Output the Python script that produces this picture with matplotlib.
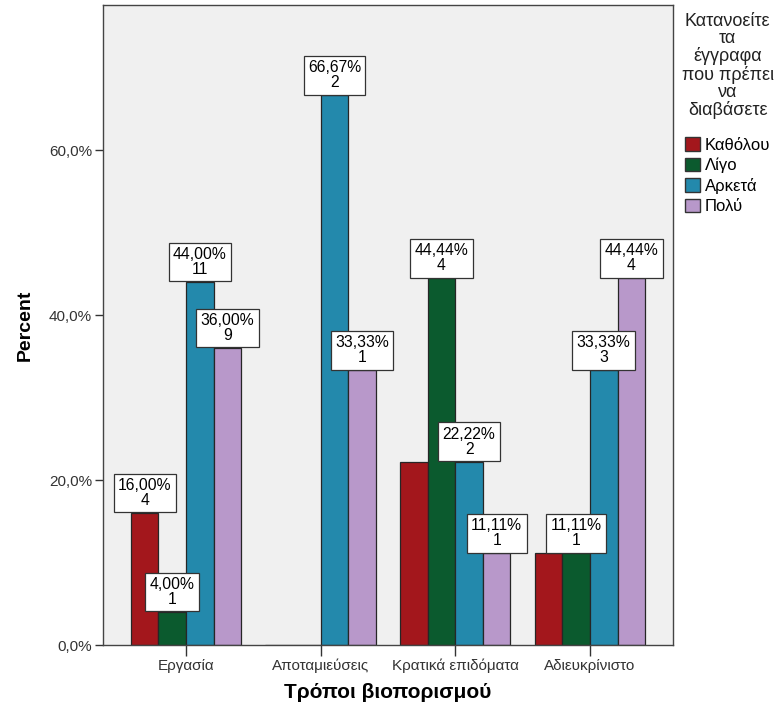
import matplotlib
matplotlib.use('Agg')
import matplotlib.pyplot as plt
import matplotlib.patches as mpatches
import numpy as np

plt.rcParams['font.family'] = ['Liberation Sans', 'DejaVu Sans']

categories = ['Εργασία', 'Αποταμιεύσεις', 'Κρατικά επιδόματα', 'Αδιευκρίνιστο']
series = ['Καθόλου', 'Λίγο', 'Αρκετά', 'Πολύ']
colors = ['#A3171C', '#0B5A2E', '#2389AC', '#B898CA']

percents = [
    [16.00, 0.00, 22.22, 11.11],   # Καθόλου
    [4.00, 0.00, 44.44, 11.11],    # Λίγο
    [44.00, 66.67, 22.22, 33.33],  # Αρκετά
    [36.00, 33.33, 11.11, 44.44],  # Πολύ
]
counts = [
    [4, 0, 2, 1],
    [1, 0, 4, 1],
    [11, 2, 2, 3],
    [9, 1, 1, 4],
]
# labels that SPSS hid because of overlap (or zero bars)
shown = [
    [True, False, False, False],
    [True, False, True, True],
    [True, True, True, True],
    [True, True, True, True],
]

fig = plt.figure(figsize=(7.78, 7.12), dpi=100)
ax = fig.add_axes([0.1324, 0.0941, 0.7326, 0.8989])
ax.set_facecolor('#F0F0F0')

x = np.arange(len(categories))
w = 0.205
for i, name in enumerate(series):
    pos = x + (i - 1.5) * w
    ax.bar(pos, percents[i], width=w, color=colors[i], edgecolor='#262626',
           linewidth=0.9, label=name, zorder=2)
    for j in range(len(categories)):
        if not shown[i][j]:
            continue
        txt = f"{percents[i][j]:.2f}%".replace('.', ',') + f"\n{counts[i][j]}"
        ax.annotate(txt, (pos[j], percents[i][j]), xytext=(0, 3.6),
                    textcoords='offset points', ha='center', va='bottom',
                    fontsize=11.3, linespacing=1.0, zorder=5,
                    bbox=dict(boxstyle='square,pad=0.28', fc='white',
                              ec='#333333', lw=0.9))

ax.set_xlim(-0.617, 3.617)
ax.set_ylim(0, 77.6)
ax.set_yticks([0, 20, 40, 60])
ax.set_yticklabels(['0,0%', '20,0%', '40,0%', '60,0%'])
ax.set_xticks(x)
ax.set_xticklabels(categories)
ax.tick_params(axis='y', length=6, width=1, color='#333333', labelsize=11,
               labelcolor='#333333', pad=2)
ax.tick_params(axis='x', length=8, width=1, color='#333333', labelsize=11,
               labelcolor='#333333', pad=2)
for s in ax.spines.values():
    s.set_color('#444444')
    s.set_linewidth(1)

ax.set_ylabel('Percent', fontsize=14, fontweight='bold', labelpad=11)
ax.set_xlabel('Τρόποι βιοπορισμού', fontsize=15, fontweight='bold', labelpad=7)

handles = [mpatches.Patch(facecolor=c, edgecolor='#333333', lw=1) for c in colors]
leg = fig.legend(handles, series, loc='upper left', bbox_to_anchor=(0.876, 0.982),
                 title='Κατανοείτε\nτα\nέγγραφα\nπου πρέπει\nνα\nδιαβάσετε',
                 alignment='center', frameon=False, fontsize=12,
                 title_fontsize=13, handlelength=0.9, handleheight=0.9,
                 handletextpad=0.3, labelspacing=0.28, borderpad=0,
                 borderaxespad=0)
leg.get_title().set_linespacing(1.02)
leg.get_title().set_multialignment('center')
leg.get_title().set_color('#222222')
leg._legend_box.sep = 13

fig.savefig('out.png', dpi=100)
